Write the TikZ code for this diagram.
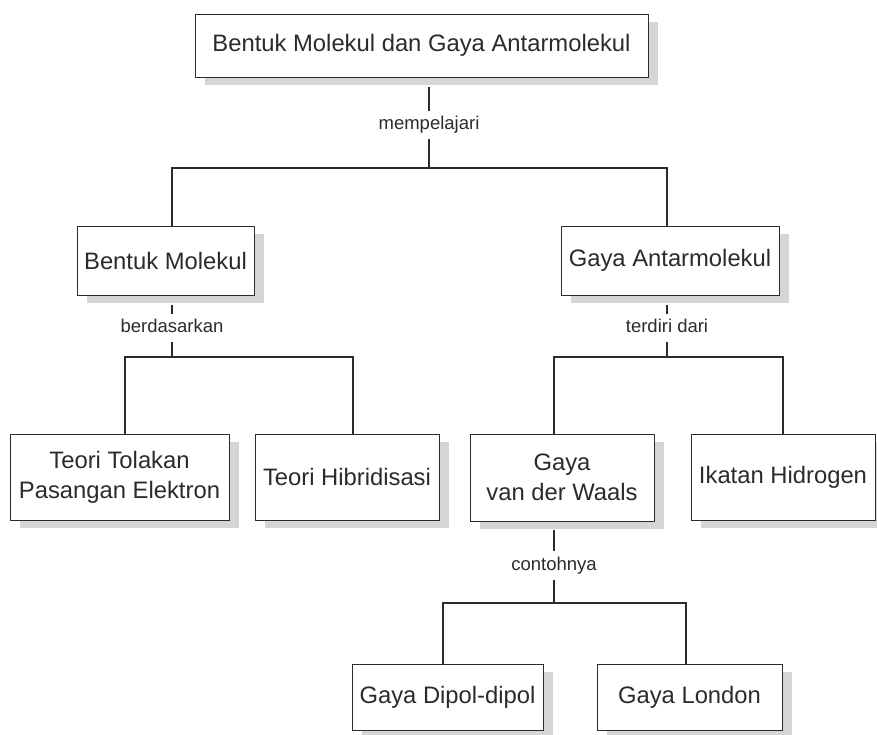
\documentclass[tikz,border=0pt]{standalone}
\usepackage{fontspec}
\setmainfont{Liberation Sans}
\usetikzlibrary{shadows,calc}
\definecolor{shadowgray}{HTML}{D3D5D7}
\definecolor{ink}{HTML}{2B2B2B}
\begin{document}
\begin{tikzpicture}[x=1pt,y=-1pt,
  box/.style={draw=ink, line width=1pt, fill=white, inner sep=0pt, align=center, text=ink,
    font=\fontsize{23.8}{30}\selectfont,
    drop shadow={shadow xshift=10pt, shadow yshift=-8pt, fill=shadowgray, opacity=1}},
  lbl/.style={text=ink, font=\fontsize{18.5}{22}\selectfont, inner sep=0pt,
    text height=13pt, text depth=4pt, minimum height=28pt},
  conn/.style={draw=ink, line width=1.1pt}]
\useasboundingbox[fill=white] (0,0) rectangle (877,734);

% boxes
\node[box, minimum width=453pt, minimum height=63pt] (top) at (421.5,45.5) {Bentuk Molekul dan Gaya Antarmolekul};
\node[box, minimum width=177pt, minimum height=69pt] (BM) at (165.5,260.5) {Bentuk Molekul};
\node[box, minimum width=218pt, minimum height=69pt] (GA) at (670,260.5) {Gaya Antarmolekul};
\node[box, minimum width=219pt, minimum height=86pt] (TT) at (119.5,477) {Teori Tolakan\\Pasangan Elektron};
\node[box, minimum width=184pt, minimum height=86pt] (TH) at (347,477) {Teori Hibridisasi};
\node[box, minimum width=184pt, minimum height=87pt] (GW) at (562,477.5) {Gaya\\van der Waals};
\node[box, minimum width=184pt, minimum height=86pt] (IH) at (783,477) {Ikatan Hidrogen};
\node[box, minimum width=191pt, minimum height=66pt] (GD) at (447.5,697) {Gaya Dipol-dipol};
\node[box, minimum width=185pt, minimum height=66pt] (GL) at (689.5,697) {Gaya London};

% labels
\node[lbl] (l1) at (429,125) {mempelajari};
\node[lbl] (l2) at (172,328) {berdasarkan};
\node[lbl] (l3) at (667,328) {terdiri dari};
\node[lbl] (l4) at (554,565.5) {contohnya};

% junctions
\coordinate (j1) at (429,168);
\coordinate (j2) at (172,357);
\coordinate (j3) at (667,357);
\coordinate (j4) at (554,603);

% connectors
\draw[conn] ($(l1.north |- top.south)+(0,9)$) -- (l1.north);
\draw[conn] (l1.south) -- (j1);
\draw[conn] ([xshift=6.5pt]BM.north) |- (j1) -| ([xshift=-3pt]GA.north);

\draw[conn] ($(l2.north |- BM.south)+(0,9)$) -- (l2.north);
\draw[conn] (l2.south) -- (j2);
\draw[conn] ([xshift=5.5pt]TT.north) |- (j2) -| ([xshift=6pt]TH.north);

\draw[conn] ($(l3.north |- GA.south)+(0,9)$) -- (l3.north);
\draw[conn] (l3.south) -- (j3);
\draw[conn] ([xshift=-8pt]GW.north) |- (j3) -| (IH.north);

\draw[conn] ($(l4.north |- GW.south)+(0,8)$) -- (l4.north);
\draw[conn] (l4.south) -- (j4);
\draw[conn] ([xshift=-4.5pt]GD.north) |- (j4) -| ([xshift=-3.5pt]GL.north);
\end{tikzpicture}
\end{document}
